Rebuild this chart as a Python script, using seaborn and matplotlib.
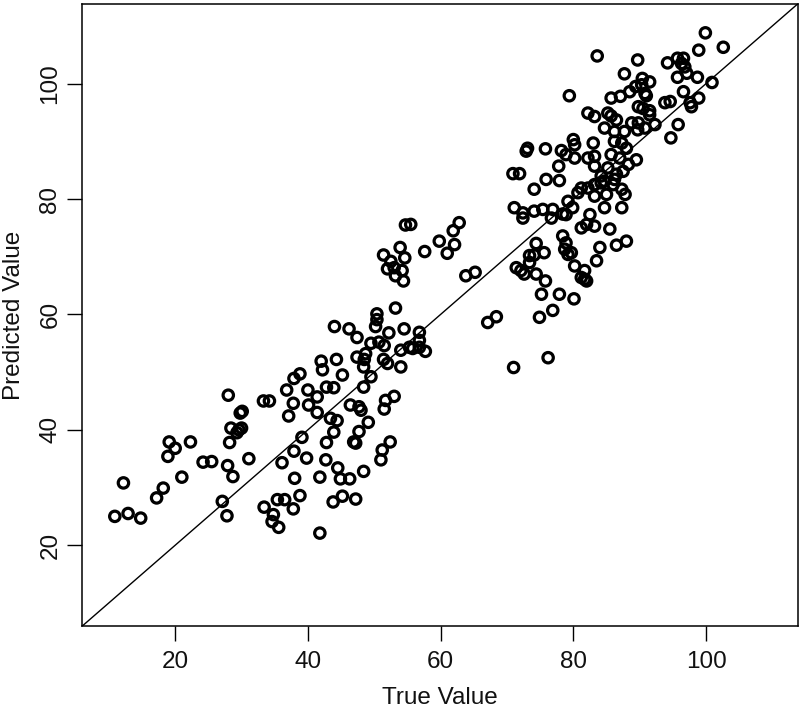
import matplotlib
matplotlib.use("Agg")
import matplotlib.pyplot as plt
import seaborn as sns
import pandas as pd

true_vals = [
    # low cluster
    28.0, 29.8, 30.1, 28.4, 29.6, 30.0, 29.3, 28.2, 19.1, 20.0, 18.9, 22.3, 31.1, 24.2, 25.5, 27.9,
    28.7, 21.0, 12.2, 18.2, 17.2, 27.1, 27.8, 10.9, 12.9, 14.8,
    33.3, 34.2, 36.8, 40.0, 41.4, 42.8, 43.9, 37.8, 37.1, 40.1, 41.4, 43.4, 44.4, 43.9, 42.8, 39.1,
    37.9, 39.8, 36.1, 42.7, 38.0, 41.8, 44.5, 44.9, 46.3, 48.4, 38.8, 35.4, 36.5, 33.4, 37.8, 34.8,
    34.6, 35.6, 43.8, 45.2, 47.2, 41.8, 46.4, 47.7, 48.0, 48.4, 49.1, 47.7, 46.9, 47.2, 51.5, 51.7,
    53.0, 52.4, 51.2, 51.0,
    # middle cluster
    54.7, 55.5, 53.9, 51.4, 54.6, 52.5, 52.0, 53.0, 54.2, 53.2, 54.4, 53.2, 50.4, 50.4, 50.2, 44.0,
    46.2, 47.4, 52.2, 54.5, 49.5, 50.7, 51.5, 54.0, 55.3, 47.4, 48.5, 48.7, 44.3, 51.4, 52.0, 54.0,
    48.4, 42.0, 42.2, 45.2, 38.8, 37.9, 49.5,
    59.8, 61.9, 62.8, 62.1, 61.0, 57.6,
    73.1, 72.9, 75.8, 78.2, 77.8, 70.9, 71.9, 75.9, 77.9, 74.1, 71.1, 72.4, 72.4, 74.1, 75.4, 76.9,
    76.7, 78.4, 78.4, 74.4, 73.4, 74.1, 75.6, 78.7,
    63.8, 65.2, 71.4, 72.1, 72.6, 73.4, 74.4, 75.8, 75.2, 77.9, 76.9, 74.9, 67.1, 68.4, 76.2, 71.0,
    56.8, 56.8, 55.8, 56.8, 57.7,
    # upper cluster
    99.9, 102.6, 98.9, 83.6, 89.7, 94.2, 95.7, 96.6, 96.3, 96.8, 87.7, 90.4, 91.5, 95.7, 98.7, 97.1,
    100.9, 79.4, 85.7, 87.1, 88.5, 89.4, 90.3, 90.8, 91.0, 96.6, 98.9, 97.6, 97.8, 93.8, 94.6, 89.8,
    90.5, 91.5, 91.5, 82.2, 83.2, 85.2, 85.7, 86.5, 95.8, 88.8, 89.8,
    94.7, 90.8, 92.3, 84.7, 86.2, 87.7, 89.7, 86.2, 87.3, 88.0, 85.7, 87.0, 89.5, 88.3,
    85.2, 86.5, 87.5, 84.7, 86.0, 87.3, 85.0, 87.8, 84.7, 87.3,
    80.0, 80.2, 83.0, 78.9, 80.2, 82.2, 83.2, 83.2, 84.2, 86.2, 81.2, 82.2, 83.2, 84.2, 80.7, 83.2,
    79.2, 79.9, 78.9, 82.5, 82.0, 83.2, 81.2, 85.5,
    78.9, 79.7, 79.2, 84.0, 86.5, 88.0, 83.5, 80.2, 81.7, 81.2, 81.7, 82.0, 80.1,
]

predicted_vals = [
    46.0, 42.9, 43.2, 40.3, 40.0, 40.3, 39.5, 37.8, 37.9, 36.8, 35.4, 37.9, 35.0, 34.4, 34.5, 33.8,
    31.9, 31.8, 30.8, 29.9, 28.2, 27.6, 25.1, 25.0, 25.5, 24.7,
    45.0, 45.0, 46.9, 46.9, 45.7, 47.4, 47.3, 44.6, 42.4, 44.3, 43.0, 42.0, 41.6, 39.6, 37.8, 38.7,
    36.3, 35.1, 34.3, 34.8, 31.6, 31.8, 33.4, 31.5, 31.5, 32.8, 28.6, 27.9, 27.9, 26.6, 26.3, 25.3,
    24.1, 23.1, 27.5, 28.5, 28.0, 22.1, 44.3, 44.0, 43.4, 47.4, 41.3, 39.7, 37.9, 37.7, 43.6, 45.1,
    45.8, 37.9, 36.5, 34.8,
    75.5, 75.6, 71.6, 70.3, 69.8, 69.2, 67.9, 68.1, 67.6, 66.7, 65.8, 61.1, 60.1, 59.1, 57.9, 57.9,
    57.5, 56.0, 56.8, 57.5, 55.0, 55.2, 54.6, 53.8, 54.3, 52.6, 52.2, 53.2, 52.2, 52.2, 51.5, 50.9,
    50.9, 51.9, 50.4, 49.5, 49.7, 48.9, 49.2,
    72.7, 74.5, 75.9, 72.1, 70.6, 70.9,
    88.8, 88.3, 88.7, 88.4, 85.7, 84.4, 84.4, 83.4, 83.2, 81.7, 78.5, 77.6, 76.7, 77.9, 78.2, 78.2,
    76.7, 77.4, 73.6, 72.3, 70.2, 70.3, 70.7, 71.3,
    66.7, 67.3, 68.1, 67.6, 67.0, 69.0, 67.0, 65.8, 63.5, 63.5, 60.7, 59.5, 58.6, 59.6, 52.5, 50.8,
    56.9, 55.5, 54.1, 54.3, 53.6,
    108.8, 106.3, 105.8, 104.8, 104.1, 103.6, 104.4, 104.4, 103.5, 102.9, 101.7, 100.9, 100.3, 101.1, 101.1, 101.8,
    100.2, 97.9, 97.5, 97.8, 98.6, 99.5, 99.8, 98.3, 97.9, 98.6, 97.5, 96.7, 96.0, 96.7, 96.9, 96.0,
    95.7, 95.3, 94.6, 94.9, 94.3, 94.9, 94.4, 93.7, 92.9, 93.2, 93.2,
    90.6, 92.3, 92.9, 92.3, 91.7, 91.7, 92.0, 90.0, 89.7, 88.8, 87.7, 87.1, 86.8, 86.0,
    85.4, 84.3, 84.8, 83.1, 82.5, 81.7, 80.8, 80.8, 78.5, 78.5,
    90.3, 89.4, 89.7, 87.7, 87.1, 87.1, 87.4, 85.7, 84.0, 83.4, 81.9, 81.9, 82.5, 82.8, 81.1, 80.5,
    79.6, 78.5, 77.3, 77.3, 75.6, 75.3, 75.0, 74.8,
    72.4, 70.7, 70.4, 71.6, 72.0, 72.7, 69.3, 68.4, 67.6, 66.4, 66.1, 65.8, 62.7,
]

x_ticks = [20, 40, 60, 80, 100]
y_ticks = [20, 40, 60, 80, 100]
x_label = "True Value"
y_label = "Predicted Value"

df = pd.DataFrame({"true": true_vals, "pred": predicted_vals})

sns.set_theme(style="white")
plt.rcParams["font.family"] = ["Liberation Sans", "DejaVu Sans"]

fig = plt.figure(figsize=(8.0, 7.09), dpi=100)
ax = fig.add_axes([82.3 / 800, 1 - 626 / 709, (797.6 - 82.3) / 800, (626 - 4) / 709])

sns.scatterplot(data=df, x="true", y="pred", ax=ax, s=56, marker="o",
                color="black", edgecolor="black", linewidth=2.3, legend=False)
ax.collections[0].set_facecolor("none")
ax.collections[0].set_edgecolor("black")

lim = (6.0, 113.8)
ax.set_xlim(*lim)
ax.set_ylim(*lim)
ax.axline((0, 0), slope=1, color="black", linewidth=1.0, zorder=1)

ax.set_xticks(x_ticks)
ax.set_yticks(y_ticks)
ax.set_xticklabels([str(t) for t in x_ticks])
ax.set_yticklabels([str(t) for t in y_ticks], rotation=90, va="center")
ax.tick_params(axis="both", direction="out", length=10.5, width=1.0, color="black",
               labelsize=17.5, labelcolor="#111111")
ax.tick_params(axis="x", pad=7.5)
ax.tick_params(axis="y", pad=4.5)
ax.tick_params(bottom=True, left=True, top=False, right=False)

for sp in ax.spines.values():
    sp.set_visible(True)
    sp.set_color("black")
    sp.set_linewidth(1.1)

ax.set_xlabel(x_label, fontsize=17.5, color="#111111")
ax.set_ylabel(y_label, fontsize=17.5, color="#111111")
ax.xaxis.set_label_coords(0.5, -(687 - 626) / 622)
ax.yaxis.set_label_coords(-(82.3 - 25) / 715.3, 0.5)
ax.grid(False)

fig.savefig("out.png", dpi=100)
